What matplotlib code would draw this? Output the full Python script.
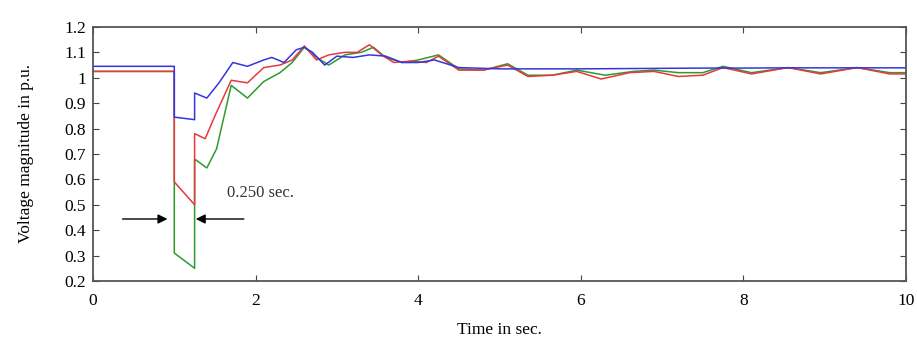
import matplotlib
matplotlib.use("Agg")
import matplotlib.pyplot as plt

# Time points / values
t_blue = [0, 1.0, 1.0, 1.25, 1.25, 1.4, 1.55, 1.72, 1.9, 2.1, 2.2, 2.35, 2.5, 2.6, 2.7, 2.85,
          3.0, 3.2, 3.4, 3.6, 3.8, 4.0, 4.2, 4.5, 5.0, 5.5, 6.0, 6.5, 7.0, 7.5, 8.0, 8.5, 9.0, 9.5, 10]
v_blue = [1.045, 1.045, 0.845, 0.835, 0.94, 0.92, 0.98, 1.06, 1.045, 1.07, 1.08, 1.06, 1.11, 1.12, 1.10, 1.05,
          1.085, 1.08, 1.09, 1.085, 1.06, 1.06, 1.07, 1.04, 1.035, 1.035, 1.035, 1.036, 1.037, 1.038, 1.038,
          1.039, 1.039, 1.039, 1.039]

t_red = [0, 1.0, 1.0, 1.25, 1.25, 1.38, 1.5, 1.7, 1.9, 2.1, 2.3, 2.45, 2.6, 2.75, 2.9, 3.1, 3.25, 3.4,
         3.55, 3.7, 3.9, 4.1, 4.25, 4.5, 4.8, 5.1, 5.35, 5.65, 5.95, 6.25, 6.6, 6.9, 7.2, 7.5, 7.75, 8.1,
         8.55, 8.95, 9.4, 9.8, 10]
v_red = [1.025, 1.025, 0.59, 0.50, 0.78, 0.76, 0.85, 0.99, 0.98, 1.04, 1.05, 1.07, 1.125, 1.07, 1.09, 1.10,
         1.10, 1.13, 1.09, 1.06, 1.065, 1.06, 1.085, 1.03, 1.03, 1.05, 1.005, 1.01, 1.025, 0.995, 1.02, 1.025,
         1.005, 1.01, 1.04, 1.015, 1.04, 1.015, 1.04, 1.015, 1.015]

t_green = [0, 1.0, 1.0, 1.25, 1.25, 1.4, 1.52, 1.7, 1.9, 2.1, 2.3, 2.45, 2.6, 2.75, 2.9, 3.1, 3.3, 3.45,
           3.6, 3.8, 4.0, 4.25, 4.5, 4.8, 5.1, 5.35, 5.65, 5.95, 6.3, 6.65, 6.9, 7.2, 7.5, 7.75, 8.1, 8.55,
           8.95, 9.4, 9.8, 10]
v_green = [1.025, 1.025, 0.31, 0.25, 0.68, 0.645, 0.72, 0.97, 0.92, 0.985, 1.02, 1.06, 1.12, 1.08, 1.05,
           1.09, 1.10, 1.12, 1.08, 1.06, 1.07, 1.09, 1.035, 1.03, 1.055, 1.01, 1.01, 1.03, 1.01, 1.025, 1.03,
           1.02, 1.02, 1.045, 1.02, 1.04, 1.02, 1.04, 1.02, 1.02]

x_ticks = [0, 2, 4, 6, 8, 10]
y_ticks = [0.2, 0.3, 0.4, 0.5, 0.6, 0.7, 0.8, 0.9, 1.0, 1.1, 1.2]
y_tick_labels = ["0.2", "0.3", "0.4", "0.5", "0.6", "0.7", "0.8", "0.9", "1", "1.1", "1.2"]

plt.rcParams['font.family'] = ['Liberation Serif', 'DejaVu Serif']

fig = plt.figure(figsize=(9.17, 3.41), dpi=100)
ax = fig.add_axes([0.1014, 0.176, 0.8866, 0.745])

ax.plot(t_green, v_green, color='#2f9a2f', lw=1.1)
ax.plot(t_red, v_red, color='#e8383d', lw=1.1)
ax.plot(t_blue, v_blue, color='#3535e0', lw=1.1)

ax.set_xlim(0, 10)
ax.set_ylim(0.2, 1.2)
ax.set_xticks(x_ticks)
ax.set_xticklabels([str(x) for x in x_ticks])
ax.set_yticks(y_ticks)
ax.set_yticklabels(y_tick_labels)
ax.tick_params(direction='in', top=True, right=True, labelsize=12.5, length=4, color='#444444')
ax.tick_params(axis='x', pad=9)
ax.tick_params(axis='y', pad=5)
for s in ax.spines.values():
    s.set_color('#555555')
    s.set_linewidth(1.3)

ax.set_xlabel('Time in sec.', fontsize=12.5, labelpad=9)
ax.set_ylabel('Voltage magnitude in p.u.', fontsize=12.5, labelpad=22)

# annotation arrows
ax.annotate('', xy=(0.95, 0.444), xytext=(0.33, 0.444),
            arrowprops=dict(arrowstyle='-|>', color='black', lw=1.0, mutation_scale=14))
ax.annotate('', xy=(1.23, 0.444), xytext=(1.89, 0.444),
            arrowprops=dict(arrowstyle='-|>', color='black', lw=1.0, mutation_scale=14))
ax.text(1.65, 0.546, '0.250 sec.', fontsize=12, va='center', ha='left', color='#333333')

fig.savefig('out.png', dpi=100)
